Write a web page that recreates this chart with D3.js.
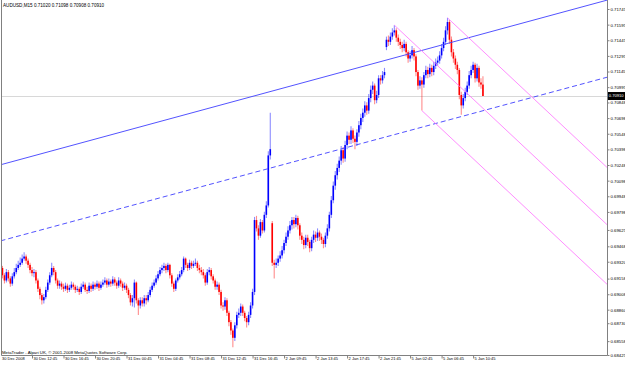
<!DOCTYPE html>
<html>
<head>
<meta charset="utf-8">
<script src="https://cdn.jsdelivr.net/npm/d3@7"></script>
<style>
  body { margin: 0; background: #fff; }
  svg { display: block; }
  text { font-family: "Liberation Sans", Arial, sans-serif; }
</style>
</head>
<body>
<div id="chart"></div>
<script>
// AUDUSD M15 bars, 30 Dec 2008 - 5 Jan 2009
const symbol = "AUDUSD,M15";

const opens = [
  0.6890,0.6926,0.6919,0.6914,0.6922,0.6916,0.6911,0.6918,0.6922,0.6926,
  0.6929,0.6931,0.6935,0.6937,0.6933,0.6929,0.6924,0.6921,0.6922,0.6914,
  0.6906,0.6900,0.6895,0.6898,0.6905,0.6912,0.6919,0.6926,0.6922,0.6914,
  0.6909,0.6911,0.6908,0.6906,0.6909,0.6905,0.6907,0.6910,0.6908,0.6905,
  0.6906,0.6903,0.6908,0.6910,0.6905,0.6904,0.6909,0.6906,0.6910,0.6908,
  0.6911,0.6907,0.6910,0.6912,0.6914,0.6910,0.6913,0.6911,0.6915,0.6912,
  0.6909,0.6914,0.6911,0.6907,0.6909,0.6905,0.6900,0.6893,0.6897,0.6912,
  0.6895,0.6890,0.6895,0.6892,0.6897,0.6895,0.6900,0.6905,0.6909,0.6912,
  0.6916,0.6920,0.6924,0.6926,0.6928,0.6924,0.6929,0.6919,0.6911,0.6906,
  0.6914,0.6917,0.6920,0.6924,0.6935,0.6929,0.6926,0.6931,0.6928,0.6930,
  0.6931,0.6926,0.6924,0.6922,0.6919,0.6912,0.6922,0.6924,0.6918,0.6914,
  0.6908,0.6910,0.6903,0.6890,0.6889,0.6895,0.6883,0.6874,0.6866,0.6859,
  0.6871,0.6881,0.6883,0.6889,0.6883,0.6878,0.6874,0.6881,0.6890,0.6903,
  0.6972,0.6964,0.6957,0.6970,0.6962,0.6977,0.6986,0.7034,0.6969,0.6931,
  0.6929,0.6931,0.6935,0.6938,0.6943,0.6950,0.6956,0.6962,0.6967,0.6972,
  0.6968,0.6974,0.6967,0.6957,0.6953,0.6948,0.6955,0.6951,0.6945,0.6953,
  0.6958,0.6955,0.6960,0.6956,0.6953,0.6949,0.6957,0.6964,0.6977,0.6991,
  0.7005,0.7015,0.7022,0.7029,0.7039,0.7031,0.7044,0.7053,0.7049,0.7058,
  0.7050,0.7047,0.7056,0.7063,0.7070,0.7075,0.7082,0.7077,0.7089,0.7097,
  0.7101,0.7087,0.7092,0.7108,0.7106,0.7111,0.7138,0.7145,0.7143,0.7148,
  0.7152,0.7154,0.7147,0.7143,0.7140,0.7137,0.7141,0.7133,0.7127,0.7130,
  0.7135,0.7129,0.7114,0.7101,0.7106,0.7102,0.7111,0.7116,0.7112,0.7118,
  0.7114,0.7120,0.7123,0.7125,0.7130,0.7137,0.7143,0.7154,0.7162,0.7145,
  0.7133,0.7127,0.7121,0.7116,0.7092,0.7082,0.7089,0.7095,0.7101,0.7111,
  0.7116,0.7121,0.7108,0.7118,0.7104,0.7102
];
const highs = [
  0.6931,0.6928,0.6921,0.6925,0.6924,0.6918,0.6921,0.6926,0.6930,0.6933,
  0.6936,0.6939,0.6941,0.6939,0.6935,0.6931,0.6927,0.6925,0.6924,0.6916,
  0.6908,0.6902,0.6901,0.6908,0.6915,0.6922,0.6931,0.6928,0.6924,0.6916,
  0.6914,0.6913,0.6911,0.6912,0.6911,0.6910,0.6913,0.6912,0.6910,0.6909,
  0.6908,0.6911,0.6913,0.6912,0.6908,0.6912,0.6911,0.6913,0.6912,0.6914,
  0.6913,0.6913,0.6915,0.6917,0.6916,0.6916,0.6915,0.6918,0.6917,0.6914,
  0.6917,0.6916,0.6913,0.6912,0.6911,0.6907,0.6902,0.6900,0.6915,0.6913,
  0.6897,0.6898,0.6898,0.6900,0.6900,0.6903,0.6908,0.6912,0.6915,0.6919,
  0.6923,0.6927,0.6929,0.6931,0.6930,0.6931,0.6930,0.6921,0.6913,0.6916,
  0.6920,0.6923,0.6927,0.6937,0.6936,0.6931,0.6934,0.6933,0.6933,0.6935,
  0.6933,0.6929,0.6927,0.6925,0.6921,0.6925,0.6927,0.6926,0.6920,0.6916,
  0.6913,0.6912,0.6905,0.6893,0.6898,0.6897,0.6885,0.6876,0.6868,0.6874,
  0.6884,0.6887,0.6892,0.6891,0.6885,0.6880,0.6884,0.6893,0.6906,0.6975,
  0.6976,0.6967,0.6973,0.6972,0.6980,0.6990,0.7038,0.7075,0.6971,0.6934,
  0.6935,0.6938,0.6942,0.6947,0.6953,0.6960,0.6966,0.6971,0.6975,0.6975,
  0.6977,0.6976,0.6969,0.6960,0.6956,0.6958,0.6958,0.6953,0.6956,0.6962,
  0.6961,0.6964,0.6962,0.6959,0.6955,0.6960,0.6968,0.6980,0.6995,0.7009,
  0.7019,0.7026,0.7033,0.7043,0.7042,0.7048,0.7057,0.7056,0.7062,0.7060,
  0.7053,0.7059,0.7067,0.7074,0.7079,0.7086,0.7085,0.7093,0.7101,0.7105,
  0.7103,0.7096,0.7111,0.7111,0.7115,0.7118,0.7148,0.7149,0.7152,0.7156,
  0.7159,0.7156,0.7150,0.7146,0.7143,0.7145,0.7143,0.7135,0.7134,0.7139,
  0.7137,0.7131,0.7116,0.7110,0.7109,0.7114,0.7120,0.7119,0.7122,0.7121,
  0.7124,0.7127,0.7129,0.7134,0.7141,0.7147,0.7158,0.7166,0.7164,0.7148,
  0.7136,0.7130,0.7124,0.7118,0.7095,0.7093,0.7099,0.7105,0.7115,0.7120,
  0.7124,0.7123,0.7122,0.7120,0.7108,0.7110
];
const lows = [
  0.6885,0.6916,0.6911,0.6912,0.6913,0.6908,0.6909,0.6916,0.6920,0.6924,
  0.6927,0.6929,0.6933,0.6930,0.6926,0.6921,0.6918,0.6917,0.6911,0.6903,
  0.6896,0.6891,0.6892,0.6896,0.6903,0.6910,0.6917,0.6919,0.6911,0.6906,
  0.6906,0.6905,0.6903,0.6904,0.6902,0.6903,0.6905,0.6905,0.6902,0.6903,
  0.6900,0.6901,0.6906,0.6903,0.6901,0.6902,0.6903,0.6904,0.6905,0.6906,
  0.6904,0.6905,0.6908,0.6910,0.6907,0.6908,0.6908,0.6909,0.6909,0.6906,
  0.6907,0.6908,0.6904,0.6905,0.6902,0.6897,0.6890,0.6889,0.6888,0.6892,
  0.6881,0.6887,0.6889,0.6889,0.6891,0.6893,0.6898,0.6903,0.6907,0.6910,
  0.6914,0.6918,0.6921,0.6923,0.6921,0.6922,0.6916,0.6908,0.6903,0.6904,
  0.6912,0.6915,0.6918,0.6922,0.6926,0.6923,0.6924,0.6925,0.6926,0.6928,
  0.6923,0.6921,0.6919,0.6916,0.6909,0.6910,0.6919,0.6915,0.6911,0.6905,
  0.6905,0.6900,0.6887,0.6885,0.6886,0.6880,0.6870,0.6862,0.6850,0.6856,
  0.6868,0.6878,0.6880,0.6880,0.6875,0.6869,0.6871,0.6878,0.6887,0.6900,
  0.6961,0.6953,0.6955,0.6959,0.6960,0.6974,0.6984,0.7030,0.6928,0.6916,
  0.6926,0.6928,0.6932,0.6935,0.6940,0.6947,0.6953,0.6959,0.6963,0.6964,
  0.6965,0.6963,0.6953,0.6949,0.6944,0.6945,0.6947,0.6941,0.6942,0.6950,
  0.6951,0.6952,0.6952,0.6949,0.6945,0.6946,0.6954,0.6961,0.6974,0.6988,
  0.7001,0.7011,0.7018,0.7025,0.7027,0.7028,0.7040,0.7045,0.7045,0.7046,
  0.7040,0.7043,0.7052,0.7059,0.7066,0.7071,0.7073,0.7074,0.7085,0.7093,
  0.7083,0.7084,0.7089,0.7102,0.7103,0.7108,0.7135,0.7139,0.7140,0.7145,
  0.7149,0.7143,0.7139,0.7136,0.7133,0.7134,0.7129,0.7123,0.7124,0.7127,
  0.7125,0.7110,0.7097,0.7098,0.7077,0.7099,0.7108,0.7108,0.7109,0.7110,
  0.7111,0.7117,0.7120,0.7122,0.7127,0.7134,0.7140,0.7150,0.7141,0.7129,
  0.7123,0.7117,0.7112,0.7088,0.7073,0.7079,0.7086,0.7092,0.7098,0.7108,
  0.7113,0.7104,0.7105,0.7100,0.7098,0.7091
];
const closes = [
  0.6926,0.6919,0.6914,0.6922,0.6916,0.6911,0.6918,0.6922,0.6926,0.6929,
  0.6931,0.6935,0.6937,0.6933,0.6929,0.6924,0.6921,0.6922,0.6914,0.6906,
  0.6900,0.6895,0.6898,0.6905,0.6912,0.6919,0.6926,0.6922,0.6914,0.6909,
  0.6911,0.6908,0.6906,0.6909,0.6905,0.6907,0.6910,0.6908,0.6905,0.6906,
  0.6903,0.6908,0.6910,0.6905,0.6904,0.6909,0.6906,0.6910,0.6908,0.6911,
  0.6907,0.6910,0.6912,0.6914,0.6910,0.6913,0.6911,0.6915,0.6912,0.6909,
  0.6914,0.6911,0.6907,0.6909,0.6905,0.6900,0.6893,0.6897,0.6912,0.6895,
  0.6890,0.6895,0.6892,0.6897,0.6895,0.6900,0.6905,0.6909,0.6912,0.6916,
  0.6920,0.6924,0.6926,0.6928,0.6924,0.6929,0.6919,0.6911,0.6906,0.6914,
  0.6917,0.6920,0.6924,0.6935,0.6929,0.6926,0.6931,0.6928,0.6930,0.6931,
  0.6926,0.6924,0.6922,0.6919,0.6912,0.6922,0.6924,0.6918,0.6914,0.6908,
  0.6910,0.6903,0.6890,0.6889,0.6895,0.6883,0.6874,0.6866,0.6859,0.6871,
  0.6881,0.6883,0.6889,0.6883,0.6878,0.6874,0.6881,0.6890,0.6903,0.6972,
  0.6964,0.6957,0.6970,0.6962,0.6977,0.6986,0.7034,0.7040,0.6931,0.6929,
  0.6931,0.6935,0.6938,0.6943,0.6950,0.6956,0.6962,0.6967,0.6972,0.6968,
  0.6974,0.6967,0.6957,0.6953,0.6948,0.6955,0.6951,0.6945,0.6953,0.6958,
  0.6955,0.6960,0.6956,0.6953,0.6949,0.6957,0.6964,0.6977,0.6991,0.7005,
  0.7015,0.7022,0.7029,0.7039,0.7031,0.7044,0.7053,0.7049,0.7058,0.7050,
  0.7047,0.7056,0.7063,0.7070,0.7075,0.7082,0.7077,0.7089,0.7097,0.7101,
  0.7087,0.7092,0.7108,0.7106,0.7111,0.7114,0.7145,0.7143,0.7148,0.7152,
  0.7154,0.7147,0.7143,0.7140,0.7137,0.7141,0.7133,0.7127,0.7130,0.7135,
  0.7129,0.7114,0.7101,0.7106,0.7102,0.7111,0.7116,0.7112,0.7118,0.7114,
  0.7120,0.7123,0.7125,0.7130,0.7137,0.7143,0.7154,0.7162,0.7145,0.7133,
  0.7127,0.7121,0.7116,0.7092,0.7082,0.7089,0.7095,0.7101,0.7111,0.7116,
  0.7121,0.7108,0.7118,0.7104,0.7102,0.7091
];

// one label every 16 bars (4 hours)
const timeLabels = ["30 Dec 2008","30 Dec 12:45","30 Dec 16:45","30 Dec 20:45",
  "31 Dec 00:45","31 Dec 04:45","31 Dec 08:45","31 Dec 12:45","31 Dec 16:45",
  "2 Jan 09:45","2 Jan 13:45","2 Jan 17:45","2 Jan 21:45",
  "5 Jan 02:45","5 Jan 06:45","5 Jan 10:45"];
const priceTicks = [0.71745,0.71595,0.71445,0.71295,0.71145,0.70995,0.70848,
  0.70698,0.70548,0.70398,0.70248,0.70098,0.69948,0.69798,0.69625,0.69468,
  0.69320,0.69158,0.69008,0.68860,0.68730,0.68558,0.68425];

const lastBar = { o: 0.71020, h: 0.71098, l: 0.70908, c: 0.70910 };

// drawn objects: [bar index, price] pairs
const channelUpper = [[0, 0.7025], [308, 0.7183]];
const channelLower = [[0, 0.6952], [308, 0.7109]];
const forkMedian = [[200, 0.7159], [308, 0.69676]];
const forkUpper = [[227, 0.7166], [308, 0.70225]];
const forkLower = [[214, 0.7077], [308, 0.69104]];

const W = 625, H = 365;
const plotLeft = 1, plotRight = 607, plotTop = 0, plotBottom = 355;
const barsPerLabel = 16;

const svg = d3.select("#chart").append("svg")
  .attr("width", W).attr("height", H);

const x = d3.scaleLinear().domain([0, 308]).range([0.5, plotRight]);
const y = d3.scaleLinear().domain([0.68425, 0.71745]).range([plotBottom, 9]);

svg.append("clipPath").attr("id", "plot")
  .append("rect")
  .attr("x", plotLeft).attr("y", plotTop)
  .attr("width", plotRight - plotLeft).attr("height", plotBottom - plotTop);

const plot = svg.append("g").attr("clip-path", "url(#plot)");

// current price line
plot.append("line")
  .attr("x1", plotLeft).attr("x2", plotRight)
  .attr("y1", Math.round(y(lastBar.c)) + 0.5).attr("y2", Math.round(y(lastBar.c)) + 0.5)
  .attr("stroke", "#d8d8d8").attr("stroke-width", 1);

const bars = closes.map((c, i) => ({ i, o: opens[i], h: highs[i], l: lows[i], c }));
const colorUp = "#0000ff", colorDown = "#ff0000";

const candle = plot.append("g").selectAll("g")
  .data(bars)
  .join("g");

candle.append("line")
  .attr("x1", d => x(d.i)).attr("x2", d => x(d.i))
  .attr("y1", d => y(d.h)).attr("y2", d => y(d.l))
  .attr("stroke", d => d.c >= d.o ? colorUp : colorDown)
  .attr("stroke-opacity", 0.45)
  .attr("stroke-width", 1.1);

candle.append("rect")
  .attr("x", d => x(d.i) - 0.8)
  .attr("width", 1.6)
  .attr("y", d => y(Math.max(d.o, d.c)))
  .attr("height", d => Math.max(0.8, Math.abs(y(d.o) - y(d.c))))
  .attr("fill", d => d.c >= d.o ? colorUp : colorDown);

// trend channel and pitchfork
const lineGen = d3.line().x(d => x(d[0])).y(d => y(d[1]));
plot.append("path").datum(channelUpper).attr("d", lineGen)
  .attr("fill", "none").attr("stroke", "#4040ff").attr("stroke-width", 0.9);
plot.append("path").datum(channelLower).attr("d", lineGen)
  .attr("fill", "none").attr("stroke", "#4040ff").attr("stroke-width", 0.9)
  .attr("stroke-dasharray", "5,3");
[forkMedian, forkUpper, forkLower].forEach(f => {
  plot.append("path").datum(f).attr("d", lineGen)
    .attr("fill", "none").attr("stroke", "#ff70ff").attr("stroke-width", 0.8);
});

// frame
svg.append("path")
  .attr("d", `M${plotLeft + 0.5},0V${plotBottom + 0.5}H${plotRight + 0.5}V0`)
  .attr("fill", "none").attr("stroke", "#808080").attr("stroke-width", 1);

// price axis
const yAxis = svg.append("g")
  .attr("transform", `translate(${plotRight + 0.5},0)`)
  .call(d3.axisRight(y).tickValues(priceTicks).tickSize(2).tickPadding(1)
    .tickFormat(d3.format(".5f")));
yAxis.select(".domain").remove();
yAxis.selectAll("line").attr("stroke", "#808080");
yAxis.selectAll("text").attr("font-size", "4.3px").attr("fill", "#000")
  .attr("font-family", "Liberation Sans");

// last price box
const lp = svg.append("g").attr("transform", `translate(${plotRight + 1},${y(lastBar.c)})`);
lp.append("rect").attr("x", 0).attr("y", -4).attr("width", W - plotRight - 1).attr("height", 8)
  .attr("fill", "#000");
lp.append("text").attr("x", 0.8).attr("dy", "0.35em")
  .attr("font-size", "4.1px").attr("fill", "#fff").text(d3.format(".5f")(lastBar.c));

// time axis
const xAxis = svg.append("g")
  .attr("transform", `translate(0,${plotBottom + 0.5})`)
  .call(d3.axisBottom(x).tickValues(timeLabels.map((t, i) => i * barsPerLabel))
    .tickSize(3).tickFormat((d, i) => timeLabels[i]));
xAxis.select(".domain").remove();
xAxis.selectAll("line").attr("stroke", "#808080");
xAxis.selectAll(".tick").filter((d, i) => i === 0).select("line").remove();
xAxis.selectAll("text")
  .attr("text-anchor", "start").attr("x", 1).attr("y", 1.5)
  .attr("font-size", "4px").attr("fill", "#000")
  .attr("font-family", "Liberation Sans");

// header and copyright
svg.append("text").attr("x", 3).attr("y", 7)
  .attr("font-size", "4.6px").attr("fill", "#000")
  .text(`${symbol}  ${d3.format(".5f")(lastBar.o)} ${d3.format(".5f")(lastBar.h)} ${d3.format(".5f")(lastBar.l)} ${d3.format(".5f")(lastBar.c)}`);
svg.append("text").attr("x", 2).attr("y", 353.5)
  .attr("font-size", "4.3px").attr("fill", "#000")
  .text("MetaTrader - Alpari UK, \u00a9 2001-2008 MetaQuotes Software Corp.");
</script>
</body>
</html>
